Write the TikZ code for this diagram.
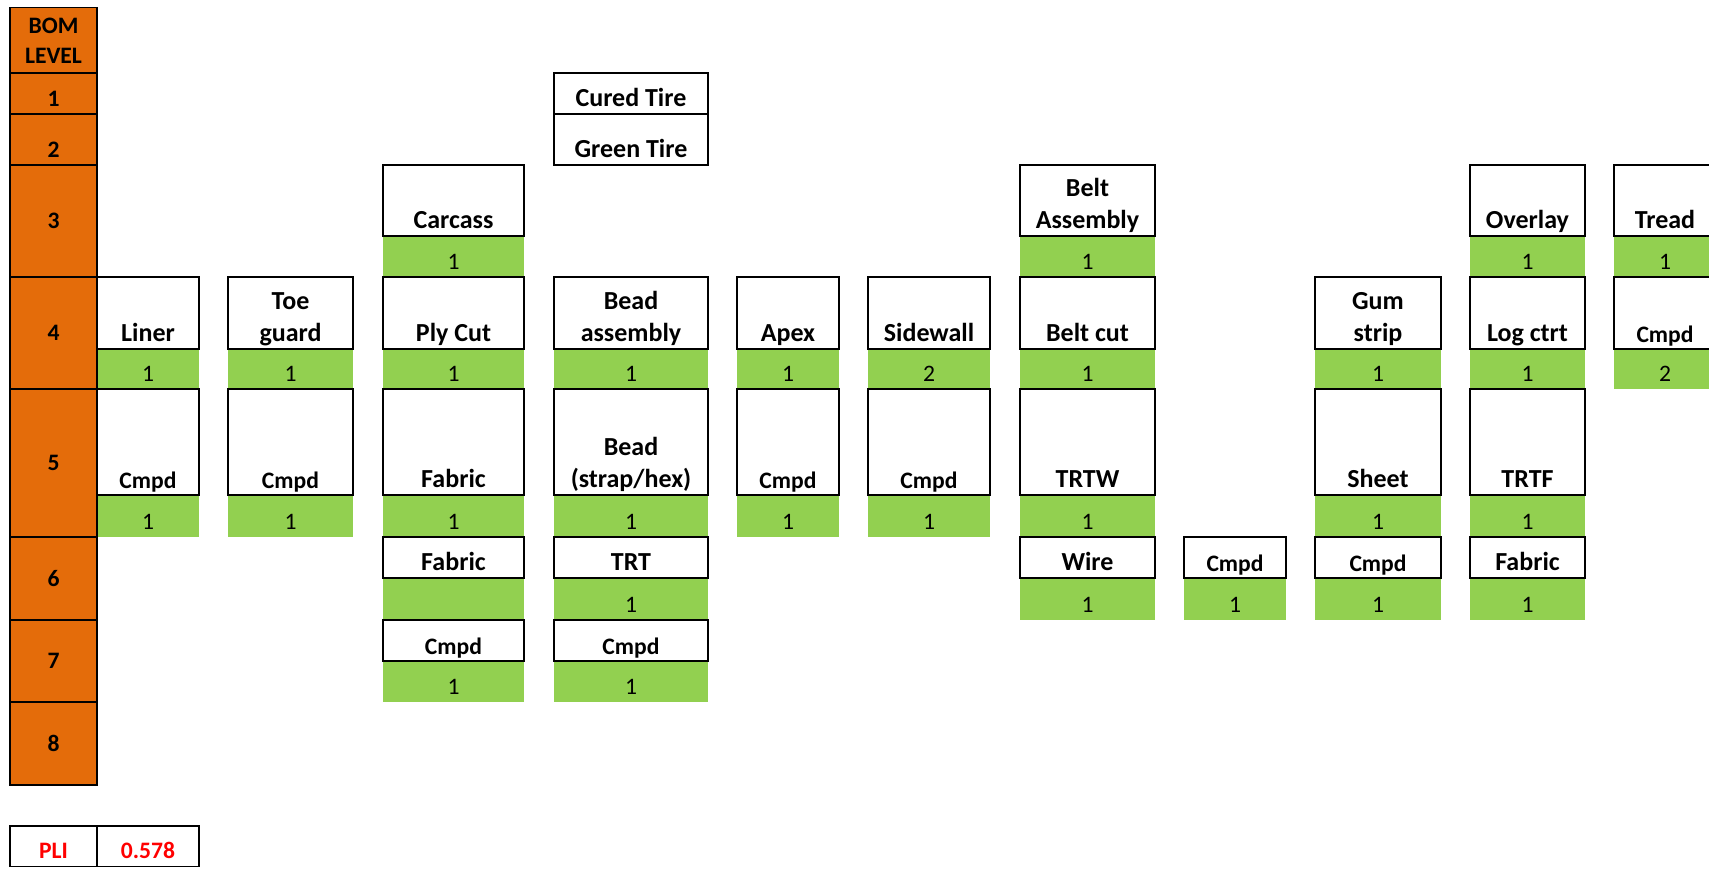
\documentclass[tikz,border=0pt]{standalone}
\usepackage{fontspec}
\setmainfont{Carlito}
\usetikzlibrary{fit}
\definecolor{orng}{HTML}{E46C0A}
\definecolor{grn}{HTML}{92D050}
\definecolor{pliRed}{HTML}{FF0000}
\tikzset{
  cellbase/.style={inner sep=0pt, outer sep=0pt, line width=1.4pt},
  wcell/.style={cellbase, draw=black},
  gcell/.style={cellbase, fill=grn},
  ocell/.style={cellbase, draw=black, fill=orng},
  pcell/.style={cellbase, draw=black},
  lbl/.style={inner sep=0pt, font=\bfseries\fontsize{26}{32}\selectfont, anchor=base},
  slbl/.style={inner sep=0pt, font=\bfseries\fontsize{23.6}{29}\selectfont, anchor=base},
  num/.style={inner sep=0pt, font=\fontsize{23.6}{29}\selectfont, anchor=base},
  olbl/.style={inner sep=0pt, font=\bfseries\fontsize{23.6}{29}\selectfont, anchor=base},
  plbl/.style={inner sep=0pt, font=\bfseries\fontsize{23.6}{29}\selectfont, anchor=base, text=pliRed},
}
% white box with one-line label
\newcommand\WB[6]{\node[wcell, fit={(#2,#3)(#4,#5)}] (#1) {};
  \node[lbl] (#1-t) at ([yshift=8pt]#1.south) {#6};}
% white box with two-line label
\newcommand\WBB[7]{\node[wcell, fit={(#2,#3)(#4,#5)}] (#1) {};
  \node[lbl] (#1-a) at ([yshift=40pt]#1.south) {#6};
  \node[lbl] (#1-t) at ([yshift=8pt]#1.south) {#7};}
% white box with small label
\newcommand\WS[6]{\node[wcell, fit={(#2,#3)(#4,#5)}] (#1) {};
  \node[slbl] (#1-t) at ([yshift=7pt]#1.south) {#6};}
% green quantity cell
\newcommand\GB[6]{\node[gcell, fit={(#2,#3)(#4,#5)}] (#1) {};
  \node[num] (#1-t) at ([yshift=8pt]#1.south) {#6};}
% orange level cell
\newcommand\OB[5]{\node[ocell, fit={(#2,#3)(#4,#5)}] (#1) {};}

\begin{document}
\begin{tikzpicture}[x=1pt,y=-1pt]
\useasboundingbox (0,0) rectangle (1709,868);
\clip (0,0) rectangle (1709,868);

% ---------------- green quantity cells ----------------
\GB{gliner4}{97}{349}{199}{389}{1}
\GB{gliner5}{97}{495}{199}{537}{1}
\GB{gtoe4}{228}{349}{353}{389}{1}
\GB{gtoe5}{228}{495}{353}{537}{1}
\GB{gcar3}{383}{236}{524}{277}{1}
\GB{gply4}{383}{349}{524}{389}{1}
\GB{gfab5}{383}{495}{524}{537}{1}
\GB{gfab6}{383}{578}{524}{620}{}
\GB{gcmpdC7}{383}{661}{524}{702}{1}
\GB{gbead4}{554}{349}{708}{389}{1}
\GB{gbead5}{554}{495}{708}{537}{1}
\GB{gtrt6}{554}{578}{708}{620}{1}
\GB{gcmpdD7}{554}{661}{708}{702}{1}
\GB{gapex4}{737}{349}{839}{389}{1}
\GB{gapex5}{737}{495}{839}{537}{1}
\GB{gside4}{868}{349}{990}{389}{2}
\GB{gside5}{868}{495}{990}{537}{1}
\GB{gbelt3}{1020}{236}{1155}{277}{1}
\GB{gbelt4}{1020}{349}{1155}{389}{1}
\GB{gtrtw5}{1020}{495}{1155}{537}{1}
\GB{gwire6}{1020}{578}{1155}{620}{1}
\GB{gcmpdH6}{1184}{578}{1286}{620}{1}
\GB{ggum4}{1315}{349}{1441}{389}{1}
\GB{gsheet5}{1315}{495}{1441}{537}{1}
\GB{gcmpdI6}{1315}{578}{1441}{620}{1}
\GB{gover3}{1470}{236}{1585}{277}{1}
\GB{glog4}{1470}{349}{1585}{389}{1}
\GB{gtrtf5}{1470}{495}{1585}{537}{1}
\GB{gfabJ6}{1470}{578}{1585}{620}{1}
\node[gcell, fit={(1614,236)(1780,277)}] (gtread3) {};
\node[num] (gtread3-t) at (1665,269) {1};
\node[gcell, fit={(1614,349)(1780,389)}] (gtread4) {};
\node[num] (gtread4-t) at (1665,381) {2};

% ---------------- white item boxes ----------------
\WB{liner}{97}{277}{199}{349}{Liner}
\WS{cmpdA}{97}{389}{199}{495}{Cmpd}
\WBB{toe}{228}{277}{353}{349}{Toe}{guard}
\WS{cmpdB}{228}{389}{353}{495}{Cmpd}
\WB{carcass}{383}{165}{524}{236}{Carcass}
\WB{ply}{383}{277}{524}{349}{Ply Cut}
\WB{fabric5}{383}{389}{524}{495}{Fabric}
\WB{fabric6}{383}{537}{524}{578}{Fabric}
\WS{cmpdC}{383}{620}{524}{661}{Cmpd}
\WB{cured}{554}{73}{708}{114}{Cured Tire}
\WB{greentire}{554}{114}{708}{165}{Green Tire}
\WBB{beadasm}{554}{277}{708}{349}{Bead}{assembly}
\WBB{bead}{554}{389}{708}{495}{Bead}{(strap/hex)}
\WB{trt}{554}{537}{708}{578}{TRT}
\WS{cmpdD}{554}{620}{708}{661}{Cmpd}
\WB{apex}{737}{277}{839}{349}{Apex}
\WS{cmpdE}{737}{389}{839}{495}{Cmpd}
\WB{sidewall}{868}{277}{990}{349}{Sidewall}
\WS{cmpdF}{868}{389}{990}{495}{Cmpd}
\WBB{beltasm}{1020}{165}{1155}{236}{Belt}{Assembly}
\WB{beltcut}{1020}{277}{1155}{349}{Belt cut}
\WB{trtw}{1020}{389}{1155}{495}{TRTW}
\WB{wire}{1020}{537}{1155}{578}{Wire}
\WS{cmpdH}{1184}{537}{1286}{578}{Cmpd}
\WBB{gum}{1315}{277}{1441}{349}{Gum}{strip}
\WB{sheet}{1315}{389}{1441}{495}{Sheet}
\WS{cmpdI}{1315}{537}{1441}{578}{Cmpd}
\WB{overlay}{1470}{165}{1585}{236}{Overlay}
\WB{logctrt}{1470}{277}{1585}{349}{Log ctrt}
\WB{trtf}{1470}{389}{1585}{495}{TRTF}
\WB{fabJ}{1470}{537}{1585}{578}{Fabric}
\node[wcell, fit={(1614,165)(1780,236)}] (tread) {};
\node[lbl] (tread-t) at (1665,228) {Tread};
\node[wcell, fit={(1614,277)(1780,349)}] (cmpdK) {};
\node[slbl] (cmpdK-t) at (1665,342) {Cmpd};

% ---------------- BOM level column ----------------
\OB{lvl}{10}{7.5}{97}{73}
\node[olbl] (lvl-a) at ([yshift=-25.5pt]lvl.north) {BOM};
\node[olbl] (lvl-b) at ([yshift=-55.5pt]lvl.north) {LEVEL};
\OB{l1}{10}{73}{97}{114}
\node[olbl] at ([yshift=8pt]l1.south) {1};
\OB{l2}{10}{114}{97}{165}
\node[olbl] at ([yshift=8pt]l2.south) {2};
\OB{l3}{10}{165}{97}{277}
\node[olbl] at ([yshift=-7.5pt]l3.center) {3};
\OB{l4}{10}{277}{97}{389}
\node[olbl] at ([yshift=-7.5pt]l4.center) {4};
\OB{l5}{10}{389}{97}{537}
\node[olbl] at ([yshift=-7.5pt]l5.center) {5};
\OB{l6}{10}{537}{97}{620}
\node[olbl] at ([yshift=-7.5pt]l6.center) {6};
\OB{l7}{10}{620}{97}{702}
\node[olbl] at ([yshift=-7.5pt]l7.center) {7};
\OB{l8}{10}{702}{97}{785}
\node[olbl] at ([yshift=-7.5pt]l8.center) {8};

% ---------------- PLI ----------------
\node[pcell, fit={(10,826)(97,866.5)}] (pli) {};
\node[plbl] at ([yshift=8pt]pli.south) {PLI};
\node[pcell, fit={(97,826)(199,866.5)}] (plival) {};
\node[plbl] at ([yshift=8pt]plival.south) {0.578};
\end{tikzpicture}
\end{document}
